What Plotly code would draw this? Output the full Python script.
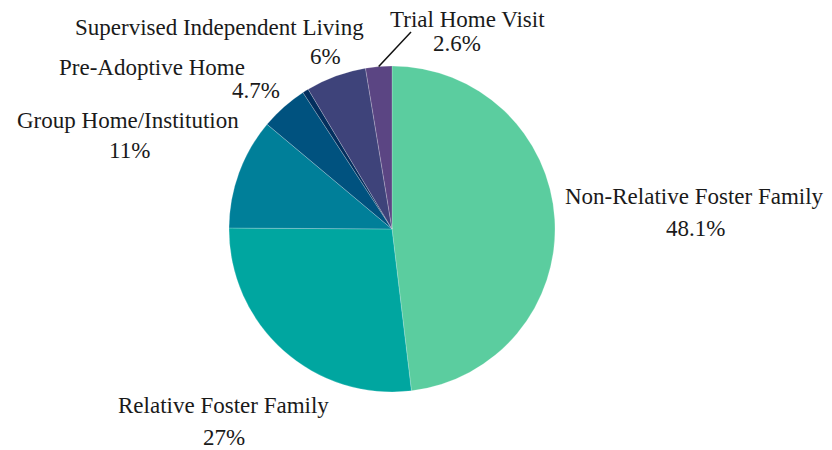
import math
import plotly.graph_objects as go

W, H = 832, 450
OFF = 8  # page body margin offset in the browser

labels = ["Non-Relative Foster Family", "Relative Foster Family", "Group Home/Institution",
          "Pre-Adoptive Home", "Other", "Supervised Independent Living", "Trial Home Visit"]
values = [48.1, 27.0, 11.0, 4.7, 0.6, 6.0, 2.6]
pct_text = ["48.1%", "27%", "11%", "4.7%", "", "6%", "2.6%"]
colors = ["#5BCD9F", "#00A6A0", "#007F99", "#00527F", "#032F5E", "#3E437A", "#5B4583"]

# pie geometry (page pixels)
CX, CY, R = 392, 229, 163

# label placement in page pixels: (name x, name y, percent x, percent y)
label_pos = {
    0: (694, 196, 695, 228),
    1: (223, 405, 224, 437),
    2: (128, 120, 129, 151),
    3: (152, 68, 256, 91),
    5: (219, 27, 325, 56),
    6: (467, 20, 457, 44),
}
leader_end = {6: (411, 32)}

def px(x):
    return (x - OFF) / W

def py(y):
    return 1 - (y - OFF) / H

fig = go.Figure(go.Pie(
    labels=labels,
    values=values,
    sort=False,
    direction="clockwise",
    rotation=0,
    marker=dict(colors=colors, line=dict(color="rgba(255,255,255,0.35)", width=0.6)),
    textinfo="none",
    hoverinfo="label+percent",
    domain=dict(x=[px(CX - R), px(CX + R)], y=[py(CY + R), py(CY - R)]),
))

font = dict(family="Liberation Serif, Times New Roman, serif", size=23, color="#1a1a1a")
annotations = []
for i, (nx, ny, qx, qy) in label_pos.items():
    annotations.append(dict(x=px(nx), y=py(ny), xref="paper", yref="paper", text=labels[i],
                            showarrow=False, xanchor="center", yanchor="middle", font=font))
    annotations.append(dict(x=px(qx), y=py(qy), xref="paper", yref="paper", text=pct_text[i],
                            showarrow=False, xanchor="center", yanchor="middle", font=font))

# leader lines start at the slice's mid-angle on the rim
total = sum(values)
shapes = []
cum = 0.0
for i, v in enumerate(values):
    mid = (cum + v / 2) / total * 2 * math.pi
    cum += v
    if i in leader_end:
        sx = CX + R * math.sin(mid)
        sy = CY - R * math.cos(mid)
        ex, ey = leader_end[i]
        shapes.append(dict(type="line", xref="paper", yref="paper",
                           x0=px(sx), y0=py(sy), x1=px(ex), y1=py(ey),
                           line=dict(color="#111111", width=1.5)))

fig.update_layout(
    width=W, height=H,
    showlegend=False,
    paper_bgcolor="white",
    margin=dict(l=0, r=0, t=0, b=0),
    annotations=annotations,
    shapes=shapes,
)

fig.write_html("out.html")
